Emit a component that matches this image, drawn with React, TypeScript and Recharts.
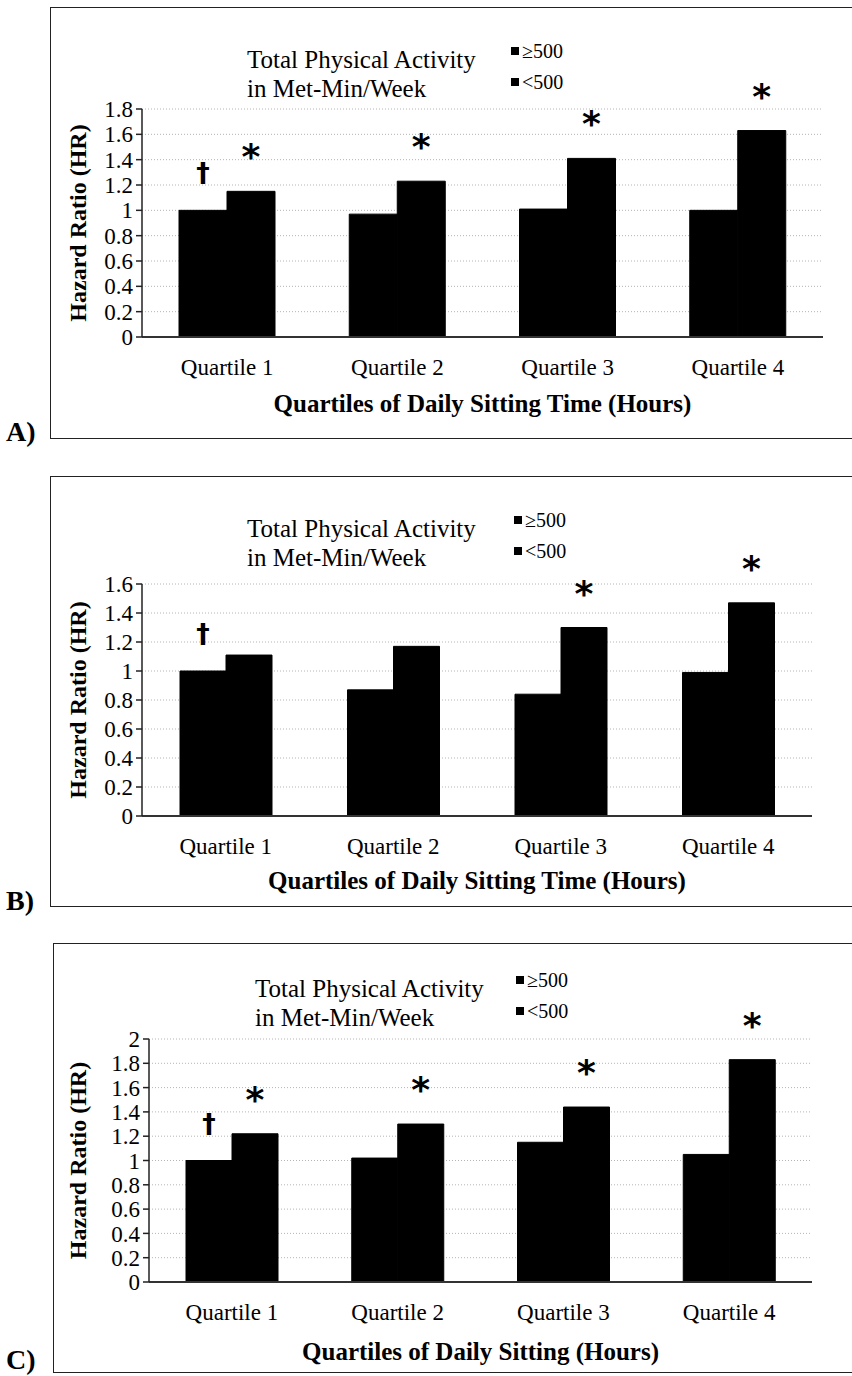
import React from 'react';
import { BarChart, Bar, XAxis, YAxis, CartesianGrid, Legend, LabelList } from 'recharts';

const quartiles = ['Quartile 1', 'Quartile 2', 'Quartile 3', 'Quartile 4'];
const seriesNames = ['\u2265500', '<500'];

// A) sitting time, all-cause
const hrA500Plus = [1.0, 0.97, 1.01, 1.0];
const hrALess500 = [1.15, 1.23, 1.41, 1.63];
const marksA500Plus = ['\u2020', '', '', ''];
const marksALess500 = ['*', '*', '*', '*'];
const ticksA = [0, 0.2, 0.4, 0.6, 0.8, 1, 1.2, 1.4, 1.6, 1.8];

// B)
const hrB500Plus = [1.0, 0.87, 0.84, 0.99];
const hrBLess500 = [1.11, 1.17, 1.3, 1.47];
const marksB500Plus = ['\u2020', '', '', ''];
const marksBLess500 = ['', '', '*', '*'];
const ticksB = [0, 0.2, 0.4, 0.6, 0.8, 1, 1.2, 1.4, 1.6];

// C)
const hrC500Plus = [1.0, 1.02, 1.15, 1.05];
const hrCLess500 = [1.22, 1.3, 1.44, 1.83];
const marksC500Plus = ['\u2020', '', '', ''];
const marksCLess500 = ['*', '*', '*', '*'];
const ticksC = [0, 0.2, 0.4, 0.6, 0.8, 1, 1.2, 1.4, 1.6, 1.8, 2];

const serif = '"Liberation Serif", "Times New Roman", serif';
const W = 852;

type Layout = {
  frameTop: number;
  frameBottom: number;
  frameLeft: number;
  plotLeft: number;
  plotTop: number;
  plotBottom: number;
  plotRight: number;
  barSize: number;
  legendLeft: number;
  legendLine: number;
  squaresLeft: number;
  tagCenter: number;
  yTitleX: number;
  xTitleGap: number;
};

type PanelProps = {
  tag: string;
  xTitle: string;
  high: number[];
  low: number[];
  highMarks: string[];
  lowMarks: string[];
  ticks: number[];
  layout: Layout;
};

const Marker = (props: any) => {
  const { x, y, width, value } = props;
  if (!value) return null;
  const cx = Number(x) + Number(width) / 2;
  const dagger = value === '\u2020';
  const center = Number(y) - (dagger ? 37 : 42);
  return (
    <text
      x={cx}
      y={center + (dagger ? 9 : 20)}
      textAnchor="middle"
      fontFamily='"DejaVu Sans", sans-serif'
      fontWeight="bold"
      fontSize={dagger ? 27 : 36}
      fill="#000"
    >
      {value}
    </text>
  );
};

const YTitle = ({ viewBox, cx }: any) => {
  const cy = viewBox.y + viewBox.height / 2;
  return (
    <text
      x={cx}
      y={cy}
      transform={`rotate(-90 ${cx} ${cy})`}
      textAnchor="middle"
      dominantBaseline="central"
      fontFamily={serif}
      fontWeight="bold"
      fontSize={24}
      fill="#000"
    >
      Hazard Ratio (HR)
    </text>
  );
};

const XTitle = ({ viewBox, value, gap }: any) => (
  <text
    x={viewBox.x + viewBox.width / 2}
    y={viewBox.y + gap}
    textAnchor="middle"
    fontFamily={serif}
    fontWeight="bold"
    fontSize={25}
    fill="#000"
  >
    {value}
  </text>
);

const Panel = ({ tag, xTitle, high, low, highMarks, lowMarks, ticks, layout: L }: PanelProps) => {
  const data = quartiles.map((q, i) => ({
    name: q,
    high: high[i],
    low: low[i],
    highMark: highMarks[i],
    lowMark: lowMarks[i],
  }));
  const height = L.frameBottom - L.frameTop;
  const yAxisWidth = 60;
  const xAxisHeight = 40;
  const margin = {
    top: L.plotTop - L.frameTop,
    left: L.plotLeft - yAxisWidth,
    right: W - L.plotRight,
    bottom: L.frameBottom - L.plotBottom - xAxisHeight,
  };

  const renderLegend = (props: any) => {
    const items = [...(props.payload || [])].sort(
      (a: any, b: any) => seriesNames.indexOf(a.value) - seriesNames.indexOf(b.value),
    );
    return (
      <div style={{ position: 'relative', width: 360, height: 60, fontFamily: serif, color: '#000' }}>
        <div style={{ position: 'absolute', left: 0, top: 0, fontSize: 25, lineHeight: '29px', whiteSpace: 'nowrap' }}>
          Total Physical Activity
          <br />
          in Met-Min/Week
        </div>
        <div style={{ position: 'absolute', left: L.squaresLeft - L.legendLeft, top: -9, fontSize: 20, lineHeight: '31px' }}>
          {items.map((p: any) => (
            <div key={p.value} style={{ display: 'flex', alignItems: 'center', whiteSpace: 'nowrap' }}>
              <span style={{ display: 'inline-block', width: 8, height: 8, background: p.color, marginRight: 3 }} />
              {p.value}
            </div>
          ))}
        </div>
      </div>
    );
  };

  return (
    <div style={{ position: 'absolute', left: 0, top: L.frameTop, width: W, height }}>
      <div
        style={{
          position: 'absolute',
          left: L.frameLeft,
          top: 0,
          width: W - L.frameLeft + 10,
          height,
          border: '1.5px solid #222',
          boxSizing: 'border-box',
        }}
      />
      <div
        style={{
          position: 'absolute',
          left: 6,
          top: L.tagCenter - L.frameTop - 13,
          fontFamily: serif,
          fontWeight: 'bold',
          fontSize: 28,
          lineHeight: '26px',
        }}
      >
        {tag}
      </div>
      <BarChart width={W} height={height} data={data} margin={margin} barGap={0}>
        <CartesianGrid vertical={false} stroke="#b4b4b4" strokeDasharray="1 2" />
        <XAxis
          dataKey="name"
          height={xAxisHeight}
          tickLine={false}
          tickSize={0}
          tickMargin={22}
          stroke="#333"
          strokeWidth={2}
          tick={{ fontFamily: serif, fontSize: 23, fill: '#000' }}
          label={<XTitle value={xTitle} gap={L.xTitleGap} />}
        />
        <YAxis
          width={yAxisWidth}
          domain={[0, ticks[ticks.length - 1]]}
          ticks={ticks}
          interval={0}
          tickSize={6}
          tickMargin={3}
          stroke="#222"
          strokeWidth={1.5}
          tick={{ fontFamily: serif, fontSize: 23, fill: '#000' }}
          label={<YTitle cx={L.yTitleX} />}
        />
        <Legend
          layout="vertical"
          align="center"
          verticalAlign="middle"
          itemSorter="dataKey"
          content={renderLegend}
          wrapperStyle={{ left: L.legendLeft, top: L.legendLine - 14.5 - L.frameTop, width: 360 }}
        />
        <Bar dataKey="high" name={seriesNames[0]} fill="#000" stroke="#000" strokeWidth={1}
          barSize={L.barSize} isAnimationActive={false}>
          <LabelList dataKey="highMark" content={<Marker />} />
        </Bar>
        <Bar dataKey="low" name={seriesNames[1]} fill="#000" stroke="#000" strokeWidth={1}
          barSize={L.barSize} isAnimationActive={false}>
          <LabelList dataKey="lowMark" content={<Marker />} />
        </Bar>
      </BarChart>
    </div>
  );
};

const layoutA: Layout = {
  frameTop: 7, frameBottom: 439, frameLeft: 50,
  plotLeft: 142, plotTop: 109, plotBottom: 337, plotRight: 823,
  barSize: 48, legendLeft: 247, legendLine: 59, squaresLeft: 511,
  tagCenter: 432, yTitleX: 78, xTitleGap: 75,
};
const layoutB: Layout = {
  frameTop: 476, frameBottom: 907, frameLeft: 50,
  plotLeft: 142, plotTop: 584, plotBottom: 816, plotRight: 812,
  barSize: 46, legendLeft: 247, legendLine: 528, squaresLeft: 514,
  tagCenter: 901, yTitleX: 78, xTitleGap: 73,
};
const layoutC: Layout = {
  frameTop: 943, frameBottom: 1373, frameLeft: 53,
  plotLeft: 149, plotTop: 1039, plotBottom: 1282, plotRight: 812,
  barSize: 46, legendLeft: 255, legendLine: 988, squaresLeft: 516,
  tagCenter: 1360, yTitleX: 78, xTitleGap: 78,
};

export default function App() {
  return (
    <div style={{ position: 'absolute', left: 0, top: 0, width: W, height: 1376, overflow: 'hidden', background: '#fff' }}>
      <Panel tag="A)" xTitle="Quartiles of Daily Sitting Time (Hours)" high={hrA500Plus} low={hrALess500}
        highMarks={marksA500Plus} lowMarks={marksALess500} ticks={ticksA} layout={layoutA} />
      <Panel tag="B)" xTitle="Quartiles of Daily Sitting Time (Hours)" high={hrB500Plus} low={hrBLess500}
        highMarks={marksB500Plus} lowMarks={marksBLess500} ticks={ticksB} layout={layoutB} />
      <Panel tag="C)" xTitle="Quartiles of Daily Sitting (Hours)" high={hrC500Plus} low={hrCLess500}
        highMarks={marksC500Plus} lowMarks={marksCLess500} ticks={ticksC} layout={layoutC} />
    </div>
  );
}
